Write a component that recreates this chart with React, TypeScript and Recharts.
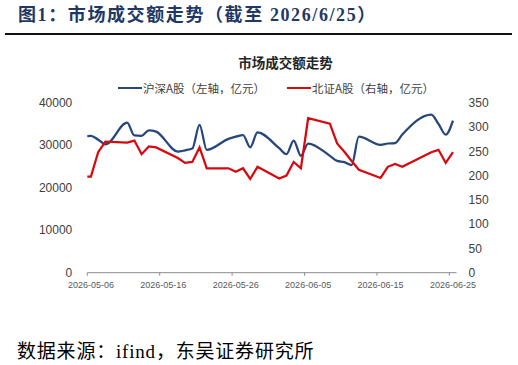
import React from 'react';
import { LineChart, Line, XAxis, YAxis } from 'recharts';

// Trading dates (first one lies before the axis start and is clipped, as in the reference)
const dates = [
  '2026-04-30',
  '2026-05-06', '2026-05-07', '2026-05-08',
  '2026-05-11', '2026-05-12', '2026-05-13', '2026-05-14', '2026-05-15',
  '2026-05-18', '2026-05-19', '2026-05-20', '2026-05-21', '2026-05-22',
  '2026-05-25', '2026-05-26', '2026-05-27', '2026-05-28', '2026-05-29',
  '2026-06-01', '2026-06-02', '2026-06-03', '2026-06-04', '2026-06-05',
  '2026-06-08', '2026-06-09', '2026-06-10', '2026-06-11', '2026-06-12',
  '2026-06-15', '2026-06-16', '2026-06-17', '2026-06-18',
  '2026-06-22', '2026-06-23', '2026-06-24', '2026-06-25',
];

// 沪深A股 (left axis, 亿元)
const hsValues = [
  27000,
  32200, 31300, 30200,
  35300, 32300, 32200, 33500, 33200,
  28500, 28800, 29200, 34800, 28900,
  31500, 32000, 32400, 29500, 33000,
  29300, 27900, 31100, 27500, 30400,
  27500, 26300, 26000, 25300, 32000,
  30100, 30400, 30500, 32500,
  37200, 35000, 32500, 35800,
];

// 北证A股 (right axis, 亿元)
const bzValues = [
  197,
  198, 248, 270,
  268, 272, 244, 260, 258,
  236, 226, 228, 258, 215,
  215, 208, 215, 193, 218,
  194, 200, 228, 215, 318,
  307, 266, 249, 230, 212,
  195, 218, 224, 218,
  248, 253, 226, 248,
];

const xTickLabels = ['2026-05-06', '2026-05-16', '2026-05-26', '2026-06-05', '2026-06-15', '2026-06-25'];
const leftTicks = [0, 10000, 20000, 30000, 40000];
const rightTicks = [0, 50, 100, 150, 200, 250, 300, 350];
const seriesNames = ['沪深A股（左轴，亿元）', '北证A股（右轴，亿元）'];
const seriesColors = ['#27467A', '#D7090F'];

const pageTitle = '图1：市场成交额走势（截至 2026/6/25）';
const chartTitle = '市场成交额走势';
const sourceText = '数据来源：ifind，东吴证券研究所';

const ORIGIN = Date.UTC(2026, 4, 6);
const dayOf = (s: string) => {
  const [y, m, d] = s.split('-').map(Number);
  return (Date.UTC(y, m - 1, d) - ORIGIN) / 86400000;
};

const data = dates.map((d, i) => ({ x: dayOf(d) + 0.5, hs: hsValues[i], bz: bzValues[i] }));
const xTicks = xTickLabels.map(dayOf);

const SANS = '"Noto Sans CJK SC", "Liberation Sans", Arial, sans-serif';
const SERIF = '"Liberation Serif", "Noto Sans CJK SC", serif';
const AXIS_FONT = '"Liberation Sans", Arial, "Noto Sans CJK SC", sans-serif';

const legendLeft = [118, 287];

export default function App() {
  return (
    <div style={{ position: 'absolute', left: 0, top: 0, width: 518, height: 365, background: '#fff', overflow: 'hidden' }}>
      <div style={{ position: 'absolute', left: 18, top: 3, lineHeight: '24px', fontSize: 18, letterSpacing: 1.6, fontWeight: 'bold', fontFamily: SERIF, color: '#1F3864', whiteSpace: 'nowrap' }}>
        {pageTitle}
      </div>
      <div style={{ position: 'absolute', left: 5, top: 33, width: 507, height: 2, background: '#111' }} />

      <div style={{ position: 'absolute', left: 0, top: 0 }}>
        <LineChart width={518} height={365} data={data} margin={{ top: 102.7, right: 21.4, bottom: 62.3, left: 0 }}>
          <XAxis
            dataKey="x"
            type="number"
            domain={[0, 51]}
            allowDataOverflow
            ticks={xTicks}
            interval={0}
            tickFormatter={(v: number) => xTickLabels[xTicks.indexOf(v)] ?? ''}
            height={30}
            tickSize={3}
            tickMargin={6}
            axisLine={{ stroke: '#8c8c8c' }}
            tickLine={{ stroke: '#8c8c8c' }}
            tick={{ fontSize: 9, fill: '#595959', fontFamily: AXIS_FONT, dx: 3.6 }}
          />
          <YAxis
            yAxisId="left"
            width={87.3}
            domain={[0, 40000]}
            ticks={leftTicks}
            axisLine={false}
            tickLine={false}
            tickSize={0}
            tickMargin={15}
            tick={{ fontSize: 12, fill: '#404040', fontFamily: AXIS_FONT }}
          />
          <YAxis
            yAxisId="right"
            orientation="right"
            width={40}
            domain={[0, 350]}
            ticks={rightTicks}
            axisLine={false}
            tickLine={false}
            tickSize={0}
            tickMargin={12}
            tick={{ fontSize: 12, fill: '#404040', fontFamily: AXIS_FONT, textAnchor: 'start' }}
          />
          <Line yAxisId="left" dataKey="hs" name={seriesNames[0]} type="monotone" stroke={seriesColors[0]} strokeWidth={2.25} dot={false} isAnimationActive={false} />
          <Line yAxisId="right" dataKey="bz" name={seriesNames[1]} type="linear" stroke={seriesColors[1]} strokeWidth={2.25} dot={false} isAnimationActive={false} />
        </LineChart>
      </div>

      <div style={{ position: 'absolute', left: 185.5, top: 51.7, width: 200, textAlign: 'center', lineHeight: '20px', fontSize: 13.5, fontWeight: 'bold', fontFamily: SANS, color: '#262626' }}>
        {chartTitle}
      </div>

      {seriesNames.map((n, i) => (
        <div key={n} style={{ position: 'absolute', left: legendLeft[i], top: 80, height: 16, display: 'flex', alignItems: 'center', fontFamily: SANS, fontSize: 11.5, color: '#404040', whiteSpace: 'nowrap' }}>
          <div style={{ width: 24, height: 2, background: seriesColors[i], marginRight: 1 }} />
          <span>{n}</span>
        </div>
      ))}

      <div style={{ position: 'absolute', left: 17, top: 340, lineHeight: '24px', fontSize: 19, letterSpacing: 0.8, fontFamily: SERIF, color: '#000', whiteSpace: 'nowrap' }}>
        {sourceText}
      </div>
    </div>
  );
}
